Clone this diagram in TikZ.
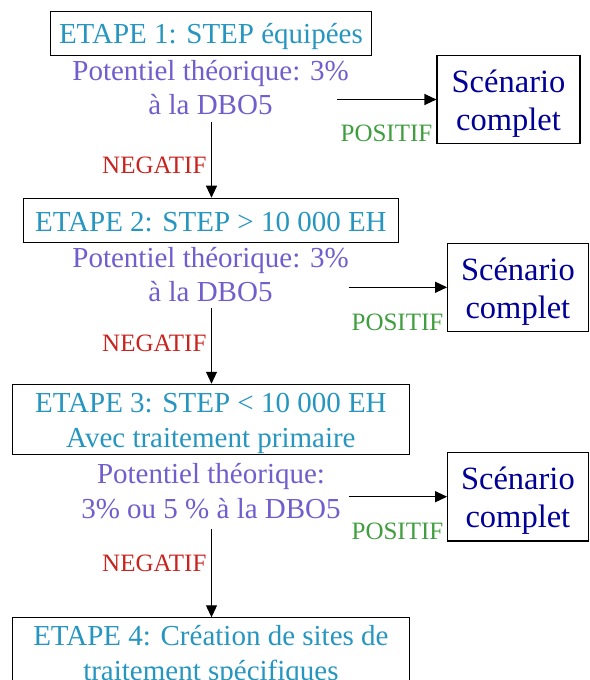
\documentclass[tikz,border=0pt]{standalone}
\usepackage{fontspec}
\setmainfont{Liberation Serif}
\usetikzlibrary{arrows.meta}

\definecolor{etapecol}{RGB}{38,150,192}
\definecolor{potcol}{RGB}{110,95,205}
\definecolor{scencol}{RGB}{0,0,150}
\definecolor{poscol}{RGB}{64,158,64}
\definecolor{negcol}{RGB}{200,35,30}

% struts that fix the vertical placement of the lines inside the boxes
\newcommand\etstrut{\rule[-7pt]{0pt}{35pt}}
\newcommand\scstrut{\rule[-7pt]{0pt}{38pt}}

\tikzset{
  stepbox/.style={draw=black, line width=1.1pt, inner sep=0pt, align=center,
    text=etapecol, font=\fontsize{29}{35}\selectfont},
  scenbox/.style={draw=black, line width=1.1pt, inner sep=0pt, align=center,
    text=scencol, font=\fontsize{32.5}{38}\selectfont,
    minimum width=140.5pt, minimum height=88.5pt},
  pottext/.style={inner sep=0pt, align=center, text=potcol,
    font=\fontsize{29}{34.5}\selectfont, anchor=base},
  postext/.style={inner sep=0pt, text=poscol, font=\fontsize{25}{30}\selectfont,
    anchor=base east},
  negtext/.style={inner sep=0pt, text=negcol, font=\fontsize{25}{30}\selectfont,
    anchor=base east},
  flow/.style={draw=black, line width=1.1pt, -{Triangle[length=12pt,width=11pt]}}
}

\begin{document}
\begin{tikzpicture}[x=1pt,y=-1pt]
\useasboundingbox (0,0) rectangle (589,680);

% stage boxes
\node[stepbox, minimum width=320.5pt, minimum height=43.5pt] (e1) at (210.9,33.4)
  {\etstrut ETAPE 1: STEP équipées};
\node[stepbox, minimum width=374.5pt, minimum height=44.5pt] (e2) at (210.9,220.5)
  {\etstrut ETAPE 2: STEP > 10 000 EH};
\node[stepbox, minimum width=397pt, minimum height=66.7pt] (e3) at (210.9,419.3)
  {\etstrut ETAPE 3: STEP < 10 000 EH\\\etstrut Avec traitement primaire};
\node[stepbox, minimum width=397pt, minimum height=69pt, anchor=north] (e4) at (210.9,617.3)
  {\etstrut ETAPE 4: Création de sites de\\\etstrut traitement spécifiques};

% theoretical potential under each stage (anchored on the last line)
\node[pottext] (p1) at (210.5,114.5) {Potentiel théorique: 3\%\\à la DBO5};
\node[pottext] (p2) at (210.5,301.7) {Potentiel théorique: 3\%\\à la DBO5};
\node[pottext] (p3) at (211,518.3) {Potentiel théorique:\\3\% ou 5 \% à la DBO5};

% outcome boxes
\node[scenbox, minimum width=143pt] (s1) at (508.5,99.5) {\scstrut Scénario\\\scstrut complet};
\node[scenbox] (s2) at (517.9,287.3) {\scstrut Scénario\\\scstrut complet};
\node[scenbox] (s3) at (517.9,496.7) {\scstrut Scénario\\\scstrut complet};

% free ends of the connectors
\coordinate (h1) at (337,99.5);
\coordinate (h2) at (348.6,287.3);
\coordinate (h3) at (348.6,496.7);
\coordinate (v1) at (211.5,121.7);
\coordinate (v2) at (211.5,308);
\coordinate (v3) at (211.5,529.3);

% positive outcome
\draw[flow] (h1) -- (s1.west);
\draw[flow] (h2) -- (s2.west);
\draw[flow] (h3) -- (s3.west);

% negative outcome: next stage
\draw[flow] (v1) -- (v1 |- e2.north);
\draw[flow] (v2) -- (v2 |- e3.north);
\draw[flow] (v3) -- (v3 |- e4.north);

% connector labels
\node[postext] (l1) at (432.5,141.7) {POSITIF};
\node[postext] (l2) at (443.5,330) {POSITIF};
\node[postext] (l3) at (443.5,539.3) {POSITIF};
\node[negtext] (n1) at (206.6,173) {NEGATIF};
\node[negtext] (n2) at (206.6,351.7) {NEGATIF};
\node[negtext] (n3) at (206.6,571.7) {NEGATIF};
\end{tikzpicture}
\end{document}
